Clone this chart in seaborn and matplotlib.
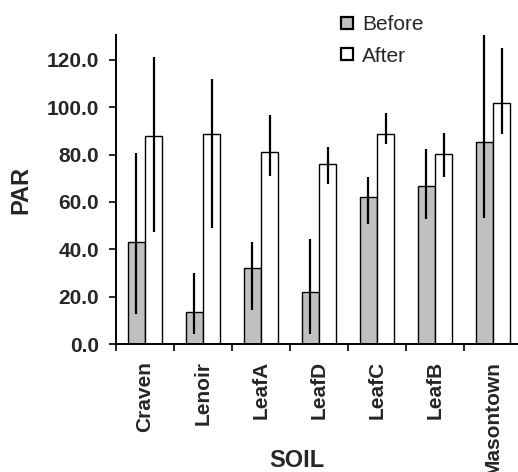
import pandas as pd
import numpy as np
import matplotlib
matplotlib.use('Agg')
import matplotlib.pyplot as plt
from matplotlib.patches import Patch
import seaborn as sns

# Data
soils = ['Craven', 'Lenoir', 'LeafA', 'LeafD', 'LeafC', 'LeafB', 'Masontown']
before = [43.0, 13.4, 32.0, 21.8, 62.2, 66.8, 85.3]
before_lo = [12.5, 4.1, 14.2, 4.1, 50.6, 52.9, 53.1]
before_hi = [80.7, 29.9, 43.2, 44.2, 70.4, 82.3, 131.0]
after = [87.7, 88.6, 81.0, 75.9, 88.6, 80.1, 101.9]
after_lo = [47.2, 48.9, 70.8, 67.5, 84.4, 70.7, 88.7]
after_hi = [121.1, 111.8, 96.6, 83.1, 97.5, 89.0, 125.2]
groups = ['Before', 'After']
y_ticks = [0, 20, 40, 60, 80, 100, 120]

df = pd.DataFrame({
    'SOIL': soils * 2,
    'PAR': before + after,
    'when': ['Before'] * len(soils) + ['After'] * len(soils),
})

sns.set_style('white')
plt.rcParams['font.family'] = ['Liberation Sans', 'DejaVu Sans']

fig = plt.figure(figsize=(5.18, 4.72), dpi=100)
ax = fig.add_axes([116 / 518, 1 - 344 / 472, 406 / 518, 309 / 472])

sns.barplot(data=df, x='SOIL', y='PAR', hue='when', hue_order=groups,
            order=soils, palette={'Before': '#c0c0c0', 'After': 'white'},
            edgecolor='black', linewidth=1.0, width=0.6, errorbar=None,
            saturation=1, legend=False, ax=ax)

# Error bars (no caps) at each bar centre
for cont, lo, hi in zip(ax.containers, [before_lo, after_lo], [before_hi, after_hi]):
    for bar, l, h in zip(cont, lo, hi):
        xc = bar.get_x() + bar.get_width() / 2
        ax.vlines(xc, l, h, color='black', linewidth=1.6, zorder=5)

ax.set_ylim(0, 130.5)
ax.set_xlim(-0.5, len(soils) - 0.5)
ax.set_yticks(y_ticks)
ax.set_yticklabels([f'{v:.1f}' for v in y_ticks], fontsize=15, fontweight='bold')
ax.set_xticks(range(len(soils)))
ax.set_xticklabels(soils, rotation=90, fontsize=15, fontweight='bold')
ax.tick_params(axis='x', length=0, pad=12)
ax.tick_params(axis='y', length=5, width=1.4, direction='out', pad=7, left=True)
# boundary ticks between categories
ax.set_xticks(np.arange(-0.5, len(soils), 1.0), minor=True)
ax.tick_params(axis='x', which='minor', length=5, width=1.4, direction='out', bottom=True)

for s in ['top', 'right']:
    ax.spines[s].set_visible(False)
for s in ['left', 'bottom']:
    ax.spines[s].set_linewidth(1.4)
    ax.spines[s].set_color('black')

ax.set_xlabel('SOIL', fontsize=17, fontweight='bold')
ax.set_ylabel('PAR', fontsize=17, fontweight='bold')
ax.xaxis.set_label_coords(0.446, -0.378)
ax.yaxis.set_label_coords(-0.234, 0.5)
ax.xaxis.label.set_va('center')
ax.yaxis.label.set_va('center')

handles = [Patch(facecolor='#c0c0c0', edgecolor='black', linewidth=1.6, label='Before'),
           Patch(facecolor='white', edgecolor='black', linewidth=1.6, label='After')]
fig.legend(handles=handles, loc='upper left', bbox_to_anchor=(331 / 518, 1 - 5 / 472),
           frameon=False, fontsize=15, handlelength=0.55, handleheight=0.55,
           handletextpad=0.45, labelspacing=0.58, borderpad=0)

fig.savefig('out.png', dpi=100)
